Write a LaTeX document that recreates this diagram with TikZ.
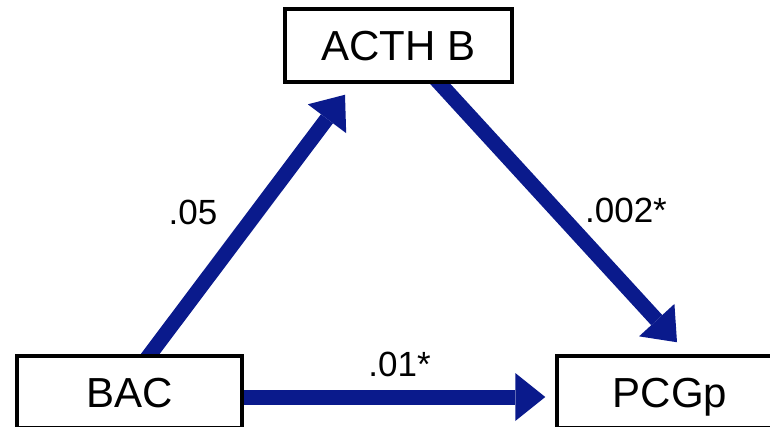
\documentclass[tikz,border=0pt]{standalone}
\usepackage{fontspec}
\setmainfont{Liberation Sans}
\usetikzlibrary{arrows.meta,backgrounds}
\definecolor{arrowblue}{RGB}{10,26,140}
\tikzset{
  box/.style={draw=black, line width=3.5pt, fill=white, inner sep=0pt,
    font=\fontsize{42}{48}\selectfont, text height=30pt, text depth=0pt},
  lbl/.style={inner sep=0pt, font=\fontsize{35}{40}\selectfont, text height=25pt, text depth=0pt},
  arr/.style={draw=arrowblue, line width=15pt,
    -{Triangle[length=30pt,width=48pt,line width=0pt]}},
}
\begin{document}
\begin{tikzpicture}[x=1pt,y=-1pt]
\useasboundingbox (0,0) rectangle (770,427);
\clip (0,0) rectangle (770,427);
\node[box, minimum width=227pt, minimum height=73pt] (acth) at (398.5,45.5) {ACTH B};
\node[box, minimum width=225pt, minimum height=72pt] (bac) at (129.5,392) {BAC};
\node[box, minimum width=226pt, minimum height=72pt] (pcgp) at (670,392) {PCGp};
\begin{scope}[on background layer]
\draw[arr] ([xshift=14.5pt,yshift=-8pt]bac.north) -- ([xshift=-53.5pt,yshift=-11pt]acth.south);
\draw[arr] ([xshift=34.8pt,yshift=7.4pt]acth.south) -- ([xshift=7pt,yshift=12pt]pcgp.north);
\draw[arr] ([xshift=-5pt,yshift=-5pt]bac.east) -- ([xshift=-10pt,yshift=-5pt]pcgp.west);
\end{scope}
\node[lbl] (l1) at (193,212.5) {.05};
\node[lbl] (l2) at (626,210) {.002*};
\node[lbl] (l3) at (399.5,364) {.01*};
\end{tikzpicture}
\end{document}
